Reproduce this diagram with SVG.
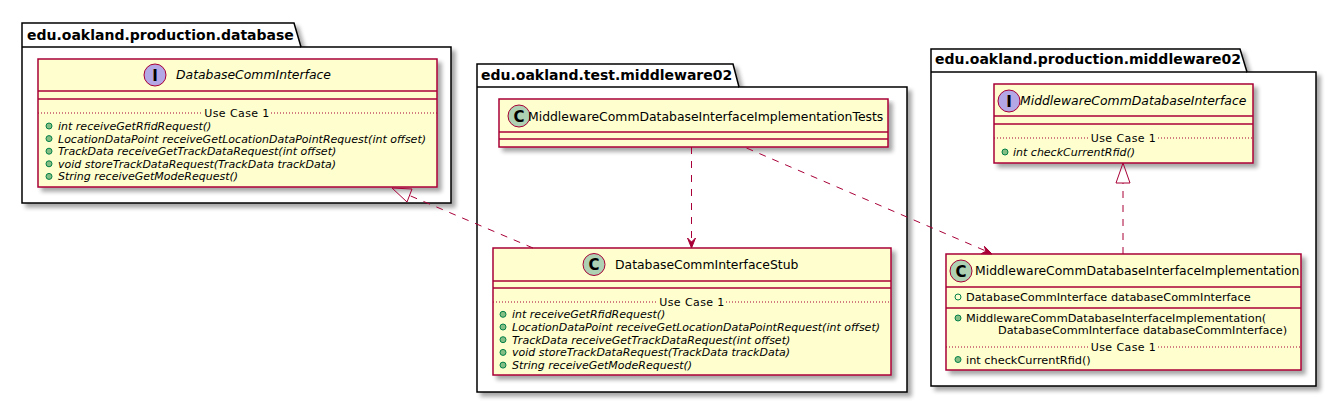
<svg xmlns="http://www.w3.org/2000/svg" width="1337" height="404" viewBox="0 0 1337 404">
<defs>
<filter id="sh" x="-5%" y="-5%" width="115%" height="125%">
<feGaussianBlur in="SourceAlpha" stdDeviation="2"/>
<feOffset dx="4" dy="4" result="o"/>
<feComponentTransfer><feFuncA type="linear" slope="0.35"/></feComponentTransfer>
<feMerge><feMergeNode/><feMergeNode in="SourceGraphic"/></feMerge>
</filter>
<style>
text{font-family:"DejaVu Sans","Liberation Sans",sans-serif;fill:#000}
.pkg{fill:#FFFFFF;stroke:#000;stroke-width:1.5}
.pline{stroke:#000;stroke-width:1.5;fill:none}
.cls{fill:#FEFECE;stroke:#A80036;stroke-width:1.5}
.sep{stroke:#A80036;stroke-width:1.5}
.dot{stroke:#A80036;stroke-width:1;stroke-dasharray:1,2}
.pname{font-size:14px;font-weight:bold}
.cname{font-size:12.4px}
.mem{font-size:11.3px}
.it{font-style:italic;font-size:11px}
.uc{font-size:11px;text-anchor:middle;letter-spacing:0.4px}
.bul{fill:#84BE84;stroke:#038048;stroke-width:1}
.hol{fill:none;stroke:#038048;stroke-width:1}
.ci{fill:#B4A7E5;stroke:#A80036;stroke-width:1}
.cc{fill:#ADD1B2;stroke:#A80036;stroke-width:1}
.glyph{font-size:15px;font-weight:bold;text-anchor:middle}
.conn{stroke:#A80036;stroke-width:1;stroke-dasharray:7,7;fill:none}
.tri{stroke:#A80036;stroke-width:1;fill:none}
.arr{stroke:#A80036;stroke-width:1;fill:#A80036}
.cname.it{font-size:12.4px}
</style>
</defs>
<rect width="1337" height="404" fill="#FFFFFF"/>

<g id="pkg-production-database">
<path class="pkg" filter="url(#sh)" d="M22,47 L22,23 L294,23 L301,47 L451,47 L451,203 L22,203 Z"/>
<path class="pline" d="M22,47 L301,47"/>
<text class="pname" x="27" y="40">edu.oakland.production.database</text>
</g>

<g id="pkg-test-middleware02">
<path class="pkg" filter="url(#sh)" d="M477,87 L477,64 L733,64 L739,87 L907,87 L907,392 L477,392 Z"/>
<path class="pline" d="M477,87 L739,87"/>
<text class="pname" x="481" y="80">edu.oakland.test.middleware02</text>
</g>

<g id="pkg-production-middleware02">
<path class="pkg" filter="url(#sh)" d="M931,72 L931,49 L1240,49 L1247,72 L1316,72 L1316,386 L931,386 Z"/>
<path class="pline" d="M931,72 L1247,72"/>
<text class="pname" x="935" y="64">edu.oakland.production.middleware02</text>
</g>

<g id="DatabaseCommInterface">
<rect class="cls" filter="url(#sh)" x="38" y="59" width="399" height="128"/>
<line class="sep" x1="38" y1="91" x2="437" y2="91"/>
<line class="sep" x1="38" y1="99" x2="437" y2="99"/>
<circle class="ci" cx="155" cy="75" r="11"/>
<text class="glyph" x="155" y="80.5">I</text>
<text class="cname it" x="176" y="79">DatabaseCommInterface</text>
<line class="dot" x1="38" y1="113" x2="203" y2="113"/>
<line class="dot" x1="271" y1="113" x2="437" y2="113"/>
<text class="uc" x="237" y="117">Use Case 1</text>
<circle class="bul" cx="49" cy="126" r="3"/>
<circle class="bul" cx="49" cy="138.6" r="3"/>
<circle class="bul" cx="49" cy="151.2" r="3"/>
<circle class="bul" cx="49" cy="163.8" r="3"/>
<circle class="bul" cx="49" cy="176.4" r="3"/>
<text class="mem it" x="58" y="130">int receiveGetRfidRequest()</text>
<text class="mem it" x="58" y="142.6">LocationDataPoint receiveGetLocationDataPointRequest(int offset)</text>
<text class="mem it" x="58" y="155.2">TrackData receiveGetTrackDataRequest(int offset)</text>
<text class="mem it" x="58" y="167.8">void storeTrackDataRequest(TrackData trackData)</text>
<text class="mem it" x="58" y="180.4">String receiveGetModeRequest()</text>
</g>

<g id="MiddlewareCommDatabaseInterfaceImplementationTests">
<rect class="cls" filter="url(#sh)" x="499" y="99" width="389" height="48"/>
<line class="sep" x1="499" y1="132" x2="888" y2="132"/>
<line class="sep" x1="499" y1="139" x2="888" y2="139"/>
<circle class="cc" cx="519" cy="116" r="11"/>
<text class="glyph" x="519" y="121.5">C</text>
<text class="cname" x="528" y="120.5">MiddlewareCommDatabaseInterfaceImplementationTests</text>
</g>

<g id="DatabaseCommInterfaceStub">
<rect class="cls" filter="url(#sh)" x="493" y="248" width="398" height="127"/>
<line class="sep" x1="493" y1="281" x2="891" y2="281"/>
<line class="sep" x1="493" y1="288" x2="891" y2="288"/>
<circle class="cc" cx="594" cy="264.5" r="11"/>
<text class="glyph" x="594" y="270">C</text>
<text class="cname" x="615" y="268.5">DatabaseCommInterfaceStub</text>
<line class="dot" x1="493" y1="302" x2="658" y2="302"/>
<line class="dot" x1="726" y1="302" x2="891" y2="302"/>
<text class="uc" x="692" y="306">Use Case 1</text>
<circle class="bul" cx="503" cy="314.3" r="3"/>
<circle class="bul" cx="503" cy="327" r="3"/>
<circle class="bul" cx="503" cy="339.7" r="3"/>
<circle class="bul" cx="503" cy="352.4" r="3"/>
<circle class="bul" cx="503" cy="365.1" r="3"/>
<text class="mem it" x="512" y="318.3">int receiveGetRfidRequest()</text>
<text class="mem it" x="512" y="331">LocationDataPoint receiveGetLocationDataPointRequest(int offset)</text>
<text class="mem it" x="512" y="343.7">TrackData receiveGetTrackDataRequest(int offset)</text>
<text class="mem it" x="512" y="356.4">void storeTrackDataRequest(TrackData trackData)</text>
<text class="mem it" x="512" y="369.1">String receiveGetModeRequest()</text>
</g>

<g id="MiddlewareCommDatabaseInterface">
<rect class="cls" filter="url(#sh)" x="994" y="84" width="259" height="79"/>
<line class="sep" x1="994" y1="116" x2="1253" y2="116"/>
<line class="sep" x1="994" y1="124" x2="1253" y2="124"/>
<circle class="ci" cx="1009" cy="101" r="11"/>
<text class="glyph" x="1009" y="106.5">I</text>
<text class="cname it" x="1020" y="105">MiddlewareCommDatabaseInterface</text>
<line class="dot" x1="994" y1="138" x2="1089" y2="138"/>
<line class="dot" x1="1158" y1="138" x2="1253" y2="138"/>
<text class="uc" x="1123.5" y="142">Use Case 1</text>
<circle class="bul" cx="1005" cy="152" r="3"/>
<text class="mem it" x="1013" y="156">int checkCurrentRfid()</text>
</g>

<g id="MiddlewareCommDatabaseInterfaceImplementation">
<rect class="cls" filter="url(#sh)" x="946" y="254" width="355" height="116"/>
<line class="sep" x1="946" y1="287" x2="1301" y2="287"/>
<line class="sep" x1="946" y1="308" x2="1301" y2="308"/>
<circle class="cc" cx="961" cy="271" r="11"/>
<text class="glyph" x="961" y="276.5">C</text>
<text class="cname" x="975" y="275">MiddlewareCommDatabaseInterfaceImplementation</text>
<circle class="hol" cx="958" cy="297" r="3"/>
<text class="mem" x="966" y="301">DatabaseCommInterface databaseCommInterface</text>
<circle class="bul" cx="958" cy="318" r="3"/>
<text class="mem" x="966" y="322">MiddlewareCommDatabaseInterfaceImplementation(</text>
<text class="mem" x="998" y="333.5">DatabaseCommInterface databaseCommInterface)</text>
<line class="dot" x1="946" y1="347" x2="1089" y2="347"/>
<line class="dot" x1="1158" y1="347" x2="1301" y2="347"/>
<text class="uc" x="1123.5" y="351">Use Case 1</text>
<circle class="bul" cx="958" cy="359.5" r="3"/>
<text class="mem" x="966" y="363.5">int checkCurrentRfid()</text>
</g>

<g id="connectors">
<path class="conn" d="M533,248 L409.5,195.5"/>
<polygon class="tri" points="392,188 412,189 407,202"/>
<path class="conn" d="M691.5,147 L691.5,244"/>
<polygon class="arr" points="691.5,248 687.5,238 691.5,242 695.5,238"/>
<path class="conn" d="M746.5,148 L987,251.5"/>
<polygon class="arr" points="992,254 981.2,253.7 985.8,251.2 984.4,246.3"/>
<path class="conn" d="M1123,254 L1123,183"/>
<polygon class="tri" points="1123,163 1116,183 1130,183"/>
</g>
</svg>
